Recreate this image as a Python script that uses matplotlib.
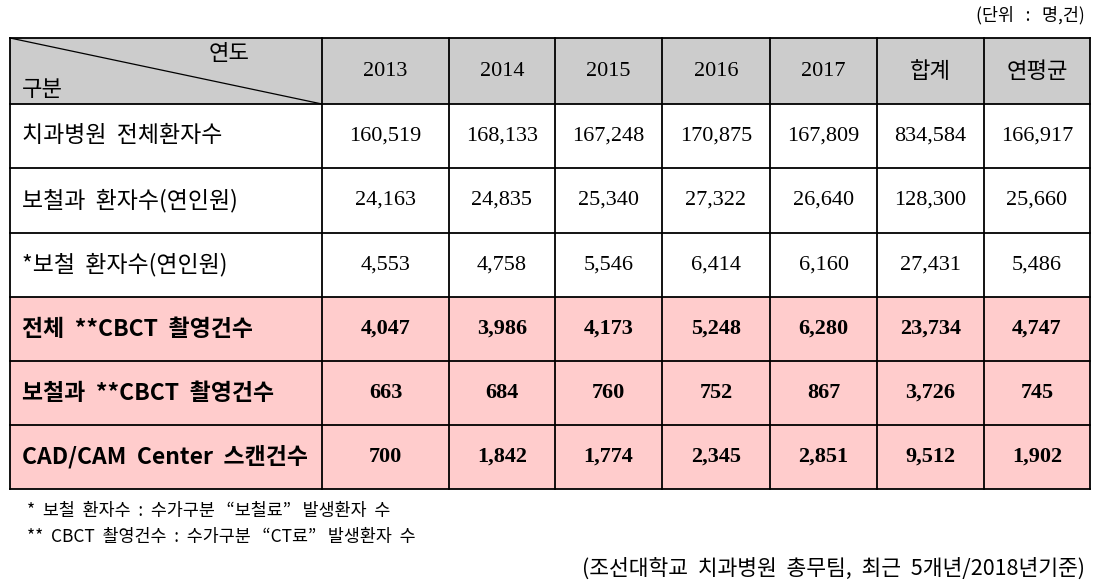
import matplotlib
matplotlib.use("Agg")
import matplotlib.pyplot as plt
from matplotlib.patches import Rectangle

plt.rcParams['font.family'] = ['Noto Sans CJK KR', 'DejaVu Sans']

# table data
col_headers = ['2013', '2014', '2015', '2016', '2017', '합계', '연평균']
row_labels = [
    '치과병원  전체환자수',
    '보철과  환자수(연인원)',
    '*보철  환자수(연인원)',
    '전체  **CBCT  촬영건수',
    '보철과  **CBCT  촬영건수',
    'CAD/CAM  Center  스캔건수',
]
total_patients = ['160,519', '168,133', '167,248', '170,875', '167,809', '834,584', '166,917']
prostho_patients = ['24,163', '24,835', '25,340', '27,322', '26,640', '128,300', '25,660']
prosthesis_patients = ['4,553', '4,758', '5,546', '6,414', '6,160', '27,431', '5,486']
cbct_total = ['4,047', '3,986', '4,173', '5,248', '6,280', '23,734', '4,747']
cbct_prostho = ['663', '684', '760', '752', '867', '3,726', '745']
cadcam_scans = ['700', '1,842', '1,774', '2,345', '2,851', '9,512', '1,902']
rows = [total_patients, prostho_patients, prosthesis_patients,
        cbct_total, cbct_prostho, cadcam_scans]
highlight = [False, False, False, True, True, True]

unit_note = '(단위   :   명,건)'
footnotes = ['*  보철  환자수  :  수가구분   “보철료”   발생환자  수',
             '**  CBCT  촬영건수  :  수가구분   “CT료”   발생환자  수']
source_note = '(조선대학교  치과병원  총무팀,  최근  5개년/2018년기준)'

# layout in pixel coordinates
col_x = [10, 322, 449, 555, 662, 770, 877, 984, 1090]
row_y = [38, 104, 168, 233, 297, 361, 425, 489]
header_fill = '#cccccc'
pink_fill = '#ffcccc'
num_font = 'Liberation Serif'
kr_size = 16.5

fig = plt.figure(figsize=(11.01, 5.88), dpi=100)
ax = fig.add_axes([0, 0, 1, 1])
ax.set_xlim(0, 1101)
ax.set_ylim(588, 0)
ax.axis('off')

# cell backgrounds
ax.add_patch(Rectangle((col_x[0], row_y[0]), col_x[-1] - col_x[0], row_y[1] - row_y[0],
                       facecolor=header_fill, edgecolor='none'))
for i, hl in enumerate(highlight):
    if hl:
        ax.add_patch(Rectangle((col_x[0], row_y[i + 1]), col_x[-1] - col_x[0],
                               row_y[i + 2] - row_y[i + 1],
                               facecolor=pink_fill, edgecolor='none'))

# grid lines
for y in row_y:
    ax.plot([col_x[0], col_x[-1]], [y, y], color='black', lw=1.3)
for x in col_x:
    ax.plot([x, x], [row_y[0], row_y[-1]], color='black', lw=1.3)
ax.plot([col_x[0], col_x[1]], [row_y[0], row_y[1]], color='black', lw=0.9)

# header
ax.text(229, 53, '연도', ha='center', va='center', fontsize=16)
ax.text(22, 89, '구분', ha='left', va='center', fontsize=16)
for j, h in enumerate(col_headers):
    cx = (col_x[j + 1] + col_x[j + 2]) / 2
    cy = (row_y[0] + row_y[1]) / 2
    if h.isdigit():
        ax.text(cx, cy, h, ha='center', va='center', fontsize=16, family=num_font)
    else:
        ax.text(cx, cy, h, ha='center', va='center', fontsize=16)

# body
for i, (label, vals) in enumerate(zip(row_labels, rows)):
    cy = (row_y[i + 1] + row_y[i + 2]) / 2
    weight = 'bold' if highlight[i] else 'normal'
    ax.text(22, cy, label, ha='left', va='center', fontsize=kr_size, fontweight=weight)
    for j, v in enumerate(vals):
        cx = (col_x[j + 1] + col_x[j + 2]) / 2
        ax.text(cx, cy, v, ha='center', va='center', fontsize=16,
                family=num_font, fontweight=weight)

# notes
ax.text(1085, 15, unit_note, ha='right', va='center', fontsize=12.5)
ax.text(27, 511, footnotes[0], ha='left', va='center', fontsize=12.5)
ax.text(27, 537, footnotes[1], ha='left', va='center', fontsize=12.5)
ax.text(1085, 569, source_note, ha='right', va='center', fontsize=15.5)

fig.savefig('out.png', dpi=100)
